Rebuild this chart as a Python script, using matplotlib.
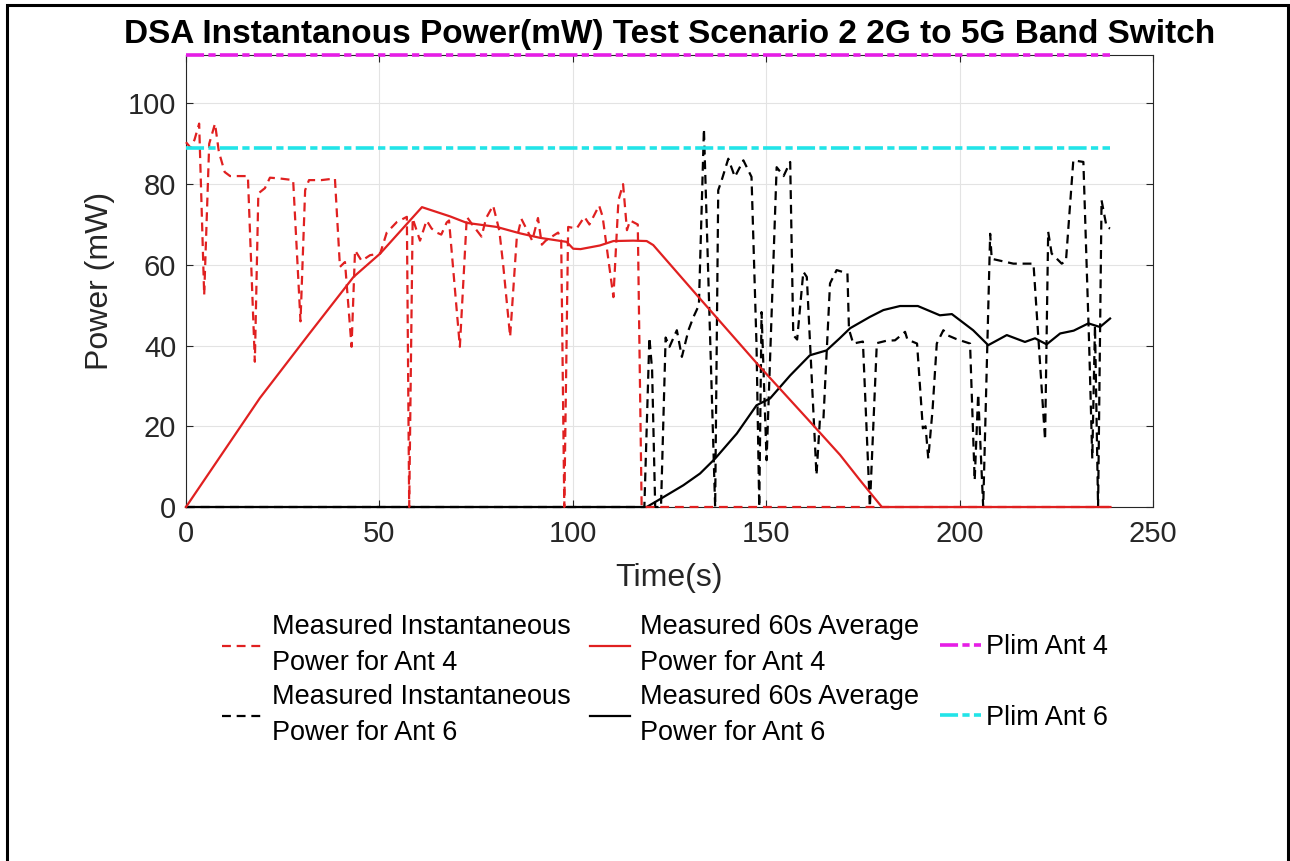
import matplotlib
matplotlib.use("Agg")
import matplotlib.pyplot as plt
from matplotlib import font_manager
from matplotlib.patches import Rectangle

# ---------------- data ----------------
t_inst4 = [0, 1.2, 2.2, 3.4, 4.7, 6.0, 7.5, 8.5, 10.0, 11.4, 14.0, 16.0, 17.8, 18.7, 20.4, 21.7,
           24.3, 27.7, 29.6, 30.8, 31.8, 33.6, 35.0, 38.5, 39.8, 41.1, 42.8, 43.7, 45.4, 47.6,
           50.2, 51.9, 54.5, 57.1, 57.7, 58.6, 60.5, 62.2, 63.5, 64.8, 66.0, 67.4, 68.0, 70.8,
           72.6, 74.0, 76.4, 77.6, 79.4, 81.0, 82.0, 83.8, 85.5, 86.7, 88.5, 89.5, 91.0, 92.0,
           93.0, 96.2, 97.0, 97.8, 98.8, 101.0, 103.0, 104.3, 106.8, 107.7, 110.5, 111.8, 113.0,
           114.0, 114.8, 116.8, 117.8, 239.0]
p_inst4 = [90.4, 89, 91, 95, 52.5, 90, 95, 88, 83, 82, 82, 82, 36, 77.7, 79, 81.6,
           81.4, 81, 46, 78.5, 81, 81, 81, 81.4, 59.5, 60.7, 39.7, 63.6, 61, 62.4,
           62.8, 68, 70.6, 71.9, 0, 71.5, 66, 71, 69, 68, 67.5, 70.5, 71, 39.7,
           71.9, 70, 67, 71.6, 74.7, 68.5, 60, 42.2, 66.5, 71.4, 68, 66, 71.6, 65,
           66, 68, 66, 0, 69.4, 69, 71.9, 70, 74.7, 72, 52, 76, 80,
           68.6, 71, 70, 0, 0]

t_avg4 = [0, 19.1, 31.6, 43.3, 50.2, 61.0, 68.3, 72.6, 80.3, 86.4, 91.5, 98.4, 100.1, 102.0,
          107.0, 110.5, 115.6, 119.1, 120.8, 132.9, 148.4, 160.5, 169.1, 174.2, 179.9, 239.0]
p_avg4 = [0, 27, 42.6, 57, 62.8, 74.3, 72, 70.4, 69.4, 67.8, 66.7, 65.7, 64, 63.9,
          64.8, 65.9, 66, 65.9, 64.9, 51.6, 34.7, 22, 12.9, 6.7, 0, 0]

t_inst6 = [0, 118.5, 119.8, 120.5, 121.3, 122.8, 124.0, 125.0, 126.9, 128.2, 129.9, 131.2, 132.6,
           133.9, 136.8, 137.6, 138.5, 140.2, 141.9, 144.1, 146.2, 147.5, 148.2, 148.8, 150.1,
           152.7, 154.5, 156.2, 157.0, 158.0, 159.6, 160.5, 163.0, 163.9, 164.8, 166.5, 168.2,
           171.0, 171.4, 172.5, 175.0, 176.8, 178.6, 181.1, 183.3, 185.9, 186.5, 189.0, 190.5,
           191.2, 191.9, 193.0, 194.1, 195.8, 197.0, 199.2, 202.7, 203.9, 204.8, 206.1, 207.9,
           208.3, 213.9, 219.1, 222.1, 222.9, 223.8, 226.4, 227.5, 229.4, 232.0, 233.5, 234.3,
           235.0, 235.8, 236.7, 238.0, 238.9]
p_inst6 = [0, 0, 42, 34, 0, 0, 42, 39.7, 43.8, 37.2, 43.8, 47.1, 50,
           93.7, 0, 78.5, 81, 86.3, 81.8, 85.9, 81.8, 40, 0, 48.3, 11.6,
           84.2, 82, 85.5, 42.6, 41.5, 58.3, 57, 7.9, 21.9, 21.9, 55.4, 58.7,
           57.9, 44, 40.5, 41, 0, 40.6, 41.2, 41.3, 43.4, 41.5, 40.5, 19.5,
           20, 12, 24, 40.5, 43.8, 42.5, 41.6, 40.5, 6.6, 28, 0, 67.7,
           61.5, 60.3, 60.3, 16.6, 68.2, 62.8, 60.3, 61, 85.9, 85.5, 40, 12,
           45, 0, 76, 69.4, 69]

t_avg6 = [0, 119.1, 123.0, 128.6, 132.9, 136.8, 142.4, 147.5, 151.0, 156.2, 161.3, 165.6, 169.0,
          171.7, 176.8, 180.3, 184.6, 189.2, 194.9, 198.0, 203.5, 207.4, 212.2, 216.9, 219.5,
          222.5, 226.0, 229.5, 233.3, 236.3, 238.9]
p_avg6 = [0, 0, 2.2, 5.4, 8.3, 12, 18.2, 25.2, 26.9, 32.6, 37.6, 38.8, 41.8,
          44.3, 47.1, 48.8, 49.8, 49.8, 47.5, 47.8, 43.8, 40.1, 42.6, 40.9, 41.8,
          40.3, 43, 43.7, 45.5, 44.6, 46.7]

t_lim = [0, 239]
plim4 = [112, 112]
plim6 = [89, 89]

labels_main = ["Measured Instantaneous\nPower for Ant 4",
               "Measured Instantaneous\nPower for Ant 6",
               "Measured 60s Average\nPower for Ant 4",
               "Measured 60s Average\nPower for Ant 6"]
labels_lim = ["Plim Ant 4", "Plim Ant 6"]
title = "DSA Instantanous Power(mW) Test Scenario 2 2G to 5G Band Switch"
xticks = [0, 50, 100, 150, 200, 250]
yticks = [0, 20, 40, 60, 80, 100]

# ---------------- style ----------------
def has_font(name):
    try:
        font_manager.findfont(font_manager.FontProperties(family=name), fallback_to_default=False)
        return True
    except Exception:
        return False

base = "Liberation Sans" if has_font("Liberation Sans") else "DejaVu Sans"
plt.rcParams['font.family'] = [base, 'DejaVu Sans']

RED = '#e02020'
MAG = '#e61ee6'
CYA = '#22e4e8'
TXT = '#262626'

fig = plt.figure(figsize=(12.9, 8.61), dpi=100)
ax = fig.add_axes([186/1290, 1-507/861, (1153-186)/1290, (507-55)/861])

lw = 1.6
dash = (0, (4, 2.6))
dashdot = (0, (5, 1.2, 2, 1.2))
h6i, = ax.plot(t_inst6, p_inst6, color='black', lw=lw, linestyle=dash, clip_on=False, zorder=3)
h6a, = ax.plot(t_avg6, p_avg6, color='black', lw=lw, clip_on=False, zorder=3)
h4i, = ax.plot(t_inst4, p_inst4, color=RED, lw=lw, linestyle=dash, clip_on=False, zorder=4)
h4a, = ax.plot(t_avg4, p_avg4, color=RED, lw=lw, clip_on=False, zorder=4)
hl4, = ax.plot(t_lim, plim4, color=MAG, lw=2.6, linestyle=dashdot, clip_on=False, zorder=5)
hl6, = ax.plot(t_lim, plim6, color=CYA, lw=2.6, linestyle=dashdot, clip_on=False, zorder=5)

ax.set_xlim(0, 250)
ax.set_ylim(0, 112)
ax.set_xticks(xticks)
ax.set_yticks(yticks)
ax.grid(True, color='#e3e3e3', lw=0.8)
ax.set_axisbelow(True)
ax.tick_params(direction='in', length=5, width=0.8, color=TXT, labelcolor=TXT,
               labelsize=21, top=True, right=True)
ax.tick_params(axis='x', pad=9)
ax.tick_params(axis='y', pad=7)
for s in ax.spines.values():
    s.set_color(TXT)
    s.set_linewidth(0.8)

ax.set_xlabel("Time(s)", fontsize=23, color=TXT, labelpad=11)
ax.set_ylabel("Power (mW)", fontsize=23, color=TXT, labelpad=9)

fig.text(669.5/1290, 1-34/861, title, ha='center', va='center', fontsize=24,
         fontweight='bold', color='black')

leg1 = fig.legend([h4i, h6i, h4a, h6a], labels_main, ncol=2, loc='upper left',
                  bbox_to_anchor=(222/1290, 1-614/861), frameon=False, fontsize=19.5,
                  handlelength=1.5, handletextpad=0.35, columnspacing=0.7,
                  borderpad=0, borderaxespad=0, labelspacing=0.3)
for txt in leg1.get_texts():
    txt.set_color('black')
    txt.set_linespacing(1.5)

leg2 = fig.legend([hl4, hl6], labels_lim, ncol=1, loc='upper left',
                  bbox_to_anchor=(940/1290, 1-634/861), frameon=False, fontsize=19.5,
                  handlelength=1.5, handletextpad=0.2,
                  borderpad=0, borderaxespad=0, labelspacing=1.65)
for txt in leg2.get_texts():
    txt.set_color('black')

fig.add_artist(Rectangle((7/1290, -0.1), (1288-7)/1290, 1.1 - 5/861,
                         transform=fig.transFigure, fill=False, lw=2.2,
                         ec='black', clip_on=False))

fig.savefig("out.png", dpi=100, facecolor='white')
